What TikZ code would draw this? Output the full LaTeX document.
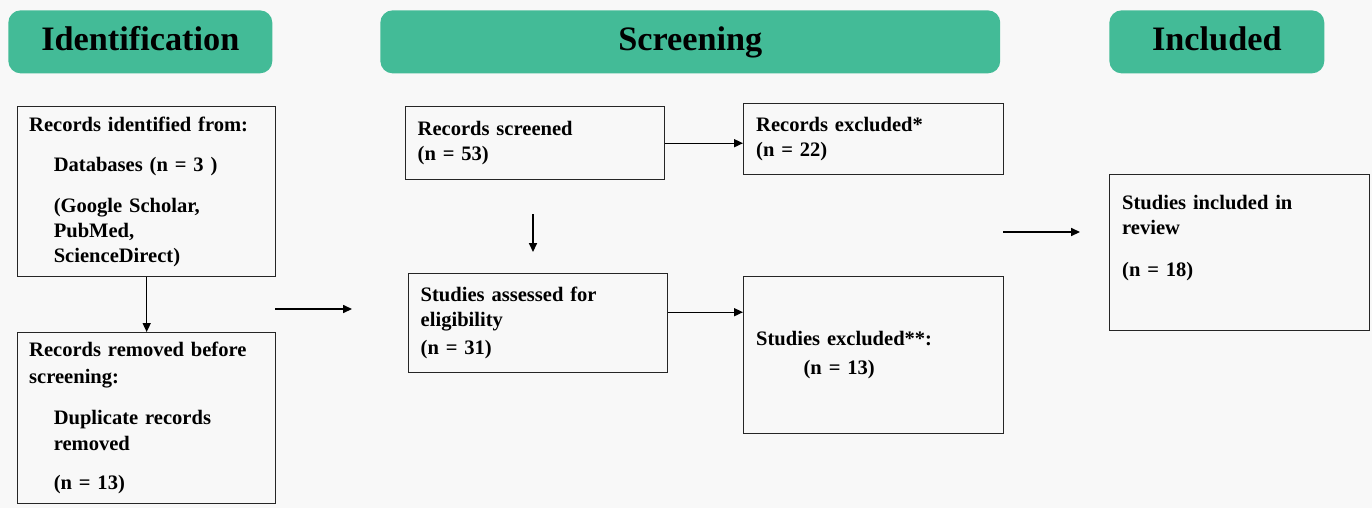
\documentclass[tikz,border=0pt]{standalone}
\usepackage{fontspec}
\setmainfont{Liberation Serif}
\usetikzlibrary{arrows.meta}
\definecolor{phasegreen}{HTML}{43BB97}
\definecolor{paper}{HTML}{F8F8F8}
\tikzset{
  phasebox/.style={fill=phasegreen, rounded corners=7pt, anchor=north west, inner sep=0pt,
    text height=13.5pt, text depth=4pt,
    font=\fontsize{19.5}{22}\selectfont\bfseries},
  flowbox/.style={draw=black!85, line width=0.8pt, anchor=north west, align=left,
    inner xsep=6.5pt, inner ysep=0pt, text width=4.7cm,
    font=\fontsize{11.7}{14.2}\selectfont\bfseries},
  flowarrow/.style={->, draw=black, line width=0.75pt}
}
\newcommand{\ind}{\hspace*{14pt}}
\begin{document}
\begin{tikzpicture}[x=0.02cm, y=-0.02cm, >={Triangle[length=5pt,width=4.5pt]}]
  \fill[paper] (0,0) rectangle (1372,508);
  % phase headers
  \node[phasebox, minimum width=5.28cm, minimum height=1.26cm] (identification) at (8,10) {Identification};
  \node[phasebox, minimum width=12.4cm, minimum height=1.26cm] (screening) at (380,10) {Screening};
  \node[phasebox, minimum width=4.3cm, minimum height=1.26cm] (included) at (1109,10) {Included};
  % identification column
  \node[flowbox, minimum width=5.16cm, minimum height=3.4cm] (identified) at (17,106)
    {Records identified from:\\[9pt]\ind Databases (n = 3 )\\[9pt]\ind (Google Scholar,\\ \ind PubMed,\\ \ind ScienceDirect)};
  \node[flowbox, minimum width=5.16cm, minimum height=3.42cm] (removed) at (17,332)
    {Records removed before\\[1pt] screening:\\[9pt]\ind Duplicate records\\[1pt] \ind removed\\[8pt]\ind (n = 13)};
  % screening column
  \node[flowbox, minimum width=5.18cm, minimum height=1.46cm] (screened) at (405,106)
    {Records screened\\ (n = 53)};
  \node[flowbox, minimum width=5.2cm, minimum height=1.42cm] (excluded) at (743,103)
    {Records excluded*\\ (n = 22)};
  \node[flowbox, minimum width=5.18cm, minimum height=1.98cm] (assessed) at (408,273)
    {Studies assessed for\\ eligibility\\[2pt] (n = 31)};
  \node[flowbox, minimum width=5.2cm, minimum height=3.14cm] (studyexcl) at (743,276)
    {Studies excluded**:\\[2pt]\hspace*{27pt}(n = 13)};
  % included column
  \node[flowbox, minimum width=5.2cm, minimum height=3.12cm] (review) at (1109,174)
    {Studies included in\\ review\\[10pt] (n = 18)\rule[-19pt]{0pt}{0pt}};
  % free arrows
  \coordinate (gapA1) at (275,309);
  \coordinate (gapA2) at (352,309);
  \coordinate (gapB1) at (533,214);
  \coordinate (gapB2) at (533,252);
  \coordinate (gapC1) at (1003,232);
  \coordinate (gapC2) at (1080,232);
  \draw[flowarrow] (identified) -- (removed);
  \draw[flowarrow] (gapA1) -- (gapA2);
  \draw[flowarrow] (screened.east) -- (screened.east -| excluded.west);
  \draw[flowarrow] (gapB1) -- (gapB2);
  \draw[flowarrow] ([yshift=0.22cm]assessed.east) -- ([yshift=0.22cm]assessed.east -| studyexcl.west);
  \draw[flowarrow] (gapC1) -- (gapC2);
\end{tikzpicture}
\end{document}
